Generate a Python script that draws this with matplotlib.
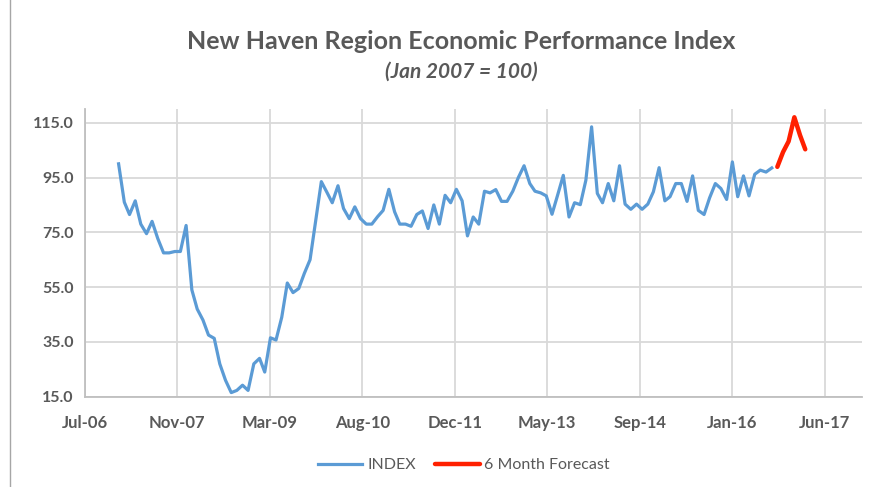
import matplotlib
matplotlib.use('Agg')
import matplotlib.pyplot as plt
import matplotlib.dates as mdates
import pandas as pd
from datetime import date, timedelta

# monthly index, Jan 2007 .. Sep 2016
index_values = [100, 86, 81.5, 86.5, 78, 74.5, 79, 72.7, 67.5, 67.5, 68, 68,
                77.5, 54, 47, 43, 37.5, 36.3, 27, 21, 16.5, 17.3, 19.2, 17.3,
                27, 29, 24, 36.5, 35.7, 44, 56.5, 53, 54.5, 60, 65, 79,
                93.5, 89.5, 85.8, 92, 83.7, 80, 84.3, 80, 78, 78, 80.7, 83,
                90.7, 82.5, 78, 78, 77.2, 81.5, 82.8, 76.4, 85, 78, 88.5, 85.8,
                90.7, 86.5, 73.7, 80.6, 78, 90, 89.4, 90.6, 86.3, 86.3, 90, 95,
                99.3, 92.8, 90, 89.4, 88.3, 81.6, 88.5, 95.8, 80.6, 85.8, 85.1, 94,
                113.5, 89.2, 85.8, 92.8, 86.5, 99.3, 85.3, 83.4, 85.3, 83.4, 85.3, 89.8,
                98.6, 86.5, 88, 92.8, 92.8, 86.3, 95.6, 83, 81.5, 87.6, 92.8, 91,
                87, 100.7, 88, 95.6, 88.3, 96.2, 97.7, 97, 98.5]
# forecast Oct 2016 .. Mar 2017
forecast_values = [98.9, 104.3, 108.2, 117, 110.4, 105.3]

index_dates = pd.date_range('2007-01-01', periods=len(index_values), freq='MS')
forecast_dates = pd.date_range('2016-10-01', periods=len(forecast_values), freq='MS')

# excel style date axis: start 2006-07-02, major unit 500 days
x_start = date(2006, 7, 2)
tick_dates = [x_start + timedelta(days=500 * k) for k in range(9)]
x_end = x_start + timedelta(days=4200)

gray = '#595959'
grid = '#D9D9D9'
plt.rcParams['font.family'] = ['Lato', 'DejaVu Sans']

fig = plt.figure(figsize=(8.92, 4.87), dpi=100)
ax = fig.add_axes([0.095, 0.1854, 0.871, 0.5907])

ax.plot(index_dates, index_values, color='#5B9BD5', lw=2.3, label='INDEX',
        solid_joinstyle='round')
ax.plot(forecast_dates, forecast_values, color='#FF2000', lw=3.2,
        label='6 Month Forecast', solid_joinstyle='round', solid_capstyle='round')

ax.set_xlim(x_start, x_end)
ax.set_ylim(15, 120)
ax.set_yticks([15, 35, 55, 75, 95, 115])
ax.yaxis.set_major_formatter(matplotlib.ticker.FormatStrFormatter('%.1f'))
ax.set_xticks(tick_dates)
ax.xaxis.set_major_formatter(mdates.DateFormatter('%b-%y'))

ax.grid(True, color=grid, lw=1.3)
ax.set_axisbelow(True)
for s in ['top', 'right']:
    ax.spines[s].set_visible(False)
for s in ['left', 'bottom']:
    ax.spines[s].set_color('#BFBFBF')
    ax.spines[s].set_linewidth(1.3)
ax.tick_params(length=0, labelcolor=gray)
ax.tick_params(axis='x', labelsize=12, pad=13)
ax.tick_params(axis='y', labelsize=11.5, pad=8)
for lab in ax.get_xticklabels() + ax.get_yticklabels():
    lab.set_fontweight('bold')

fig.text(0.517, 0.914, 'New Haven Region Economic Performance Index',
         ha='center', va='center', fontsize=18, fontweight='bold', color=gray)
fig.text(0.517, 0.852, '(Jan 2007 = 100)', ha='center', va='center',
         fontsize=15, fontweight='bold', style='italic', color=gray)

leg = fig.legend(loc='center', bbox_to_anchor=(0.52, 0.045), ncol=2,
                 frameon=False, fontsize=11.5, handlelength=2.8,
                 columnspacing=1.2, handletextpad=0.3)
for t in leg.get_texts():
    t.set_color(gray)

# chart border
fig.add_artist(plt.Line2D([10 / 892, 10 / 892], [0, 1], color='#A6A6A6', lw=1,
                          transform=fig.transFigure))

fig.savefig('out.png', dpi=100)
